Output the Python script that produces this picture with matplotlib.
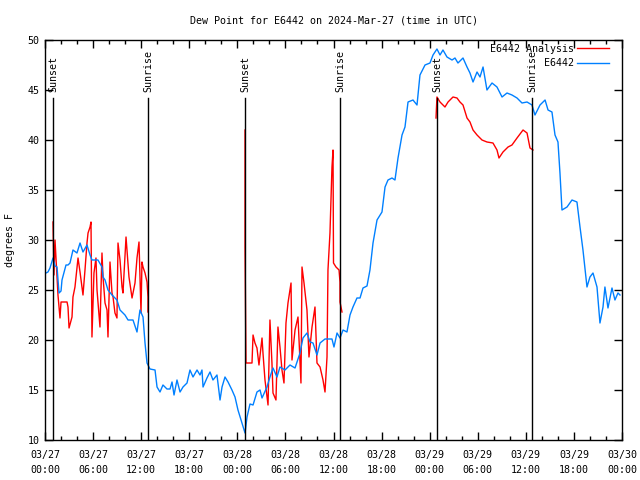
import numpy as np
import matplotlib
matplotlib.use("Agg")
import matplotlib.pyplot as plt
from matplotlib.ticker import MultipleLocator

# ---- data (hours since 2024-03-27 00:00 UTC) ----
blue_h = [0.12, 0.37, 0.62, 1.0, 1.25, 1.5, 1.75, 2.0, 2.12, 2.62, 2.87, 3.12, 3.49, 3.99, 4.37, 4.74,
          5.24, 5.62, 5.86, 6.61, 7.11, 7.24, 7.49, 7.86, 8.36, 8.98, 9.36, 9.98, 10.36, 10.98, 11.48,
          11.85, 12.23, 12.48, 12.73, 13.1, 13.73, 13.98, 14.35, 14.72, 15.22, 15.6, 15.85, 16.1, 16.47,
          16.85, 17.22, 17.72, 18.09, 18.47, 18.97, 19.34, 19.59, 19.72, 20.21, 20.59, 20.96, 21.46,
          21.84, 22.09, 22.46, 22.84, 23.33, 23.71, 24.08, 24.58, 24.96, 25.21, 25.58, 25.96, 26.45,
          26.83, 27.08, 27.7, 28.07, 28.45, 28.95, 29.32, 29.95, 30.57, 31.2, 31.82, 32.19, 32.69,
          33.07, 33.44, 33.94, 34.32, 34.94, 35.81, 36.06, 36.44, 36.81, 37.19, 37.68, 38.06, 38.43,
          38.93, 39.31, 39.68, 40.18, 40.55, 40.93, 41.43, 42.05, 42.43, 42.8, 43.3, 43.67, 44.05,
          44.55, 44.92, 45.3, 45.92, 46.42, 46.79, 47.42, 48.04, 48.42, 48.91, 49.29, 49.66, 50.16,
          50.79, 51.16, 51.53, 52.16, 52.66, 53.03, 53.41, 53.91, 54.28, 54.66, 55.15, 55.78, 56.4,
          57.03, 57.65, 58.27, 58.9, 59.52, 60.15, 60.77, 61.14, 61.77, 62.4, 62.77, 63.26, 63.64,
          64.01, 64.26, 64.51, 65.14, 65.76, 66.38, 66.76, 67.13, 67.63, 68.0, 68.38, 68.88, 69.25,
          69.63, 69.87, 70.25, 70.75, 71.12, 71.5, 71.75]
blue_v = [26.7, 26.8, 27.2, 28.2, 27.4, 27.3, 24.7, 24.9, 26.0, 27.5, 27.5, 27.7, 29.0, 28.7, 29.7, 28.8,
          29.5, 28.5, 28.0, 28.0, 27.3, 26.3, 26.0, 25.0, 24.5, 24.0, 23.0, 22.5, 22.0, 22.0, 20.8,
          23.0, 22.3, 19.7, 17.7, 17.1, 17.0, 15.3, 14.8, 15.5, 15.1, 15.1, 15.8, 14.5, 16.0,
          14.8, 15.3, 15.7, 17.0, 16.3, 17.0, 16.5, 17.0, 15.3, 16.2, 16.8, 16.0, 16.5,
          14.0, 15.3, 16.3, 15.8, 15.0, 14.3, 13.0, 11.7, 10.7, 12.3, 13.6, 13.5, 14.8,
          15.0, 14.2, 15.3, 16.3, 17.2, 16.3, 17.3, 17.0, 17.5, 17.2, 18.7, 20.2, 20.7,
          19.8, 19.7, 18.5, 19.7, 20.1, 20.1, 19.3, 20.7, 20.2, 21.0, 20.8, 22.5, 23.3,
          24.2, 24.2, 25.2, 25.4, 27.0, 29.7, 32.0, 32.8, 35.3, 36.0, 36.2, 36.0, 38.2,
          40.5, 41.3, 43.8, 44.0, 43.5, 46.5, 47.5, 47.7, 48.5, 49.1, 48.5, 49.0, 48.3,
          48.0, 48.2, 47.7, 48.2, 47.3, 46.7, 45.8, 46.8, 46.3, 47.3, 45.0, 45.7, 45.3,
          44.3, 44.7, 44.5, 44.2, 43.7, 43.8, 43.5, 42.5, 43.5, 44.0, 43.0, 42.8, 40.5,
          39.8, 36.7, 33.0, 33.3, 34.0, 33.8, 31.3, 29.0, 25.3, 26.3, 26.7, 25.3, 21.7,
          23.3, 25.3, 23.2, 25.2, 24.0, 24.7, 24.5]

# analysis series: three night-time segments separated by NaN
red_h = [1.0, 1.12, 1.25, 1.5, 1.62, 1.87, 2.0, 2.75, 2.87, 3.0, 3.37, 3.49, 3.74, 4.12, 4.37, 4.62, 4.74,
         4.99, 5.24, 5.37, 5.62, 5.74, 5.86, 6.11, 6.36, 6.49, 6.86, 7.11, 7.24, 7.49, 7.74, 7.86,
         8.11, 8.36, 8.49, 8.73, 8.98, 9.11, 9.36, 9.61, 9.73, 10.11, 10.23, 10.48, 10.86, 11.23,
         11.48, 11.73, 11.98, 12.1, 12.23, 12.48, 12.73, 12.85, 12.85,
         np.nan,
         24.96, 24.96, 25.08, 25.83, 25.96, 26.2, 26.45, 26.7, 27.08, 27.2, 27.45, 27.83, 28.07,
         28.32, 28.45, 28.82, 29.07, 29.32, 29.57, 29.82, 30.07, 30.32, 30.7, 30.82, 31.2, 31.57,
         31.94, 32.07, 32.32, 32.69, 32.94, 33.32, 33.69, 33.94, 34.32, 34.69, 34.94, 35.19, 35.31,
         35.56, 35.69, 35.81, 35.94, 36.0, 36.31, 36.69, 36.81, 36.81, 37.06,
         np.nan,
         48.79, 48.91, 49.29, 49.91, 50.29, 50.91, 51.41, 51.78, 52.16, 52.66, 53.03, 53.41, 53.91,
         54.53, 55.15, 55.9, 56.4, 56.65, 57.15, 57.78, 58.27, 58.9, 59.65, 60.15, 60.52, 60.89]
red_v = [31.8, 26.5, 30.0, 26.3, 24.5, 22.2, 23.8, 23.8, 23.3, 21.2, 22.3, 24.3, 25.3, 28.2, 26.8, 25.3, 24.5,
         27.0, 29.7, 30.7, 31.3, 31.8, 20.3, 26.7, 28.2, 25.0, 21.3, 28.7, 26.3, 23.7, 23.0, 20.3,
         27.8, 24.7, 24.3, 22.7, 22.2, 29.7, 28.0, 25.3, 24.7, 30.3, 29.0, 26.3, 24.2, 25.7,
         28.2, 29.8, 22.7, 27.8, 27.3, 26.7, 25.8, 24.3, 22.8,
         np.nan,
         41.0, 29.3, 17.7, 17.7, 20.5, 19.7, 19.2, 17.5, 20.2, 18.7, 16.0, 13.5, 22.0,
         17.7, 14.7, 14.0, 21.3, 19.3, 17.0, 15.7, 21.7, 23.7, 25.7, 18.0, 21.0, 22.3,
         15.7, 27.3, 25.7, 23.0, 18.3, 21.3, 23.3, 17.7, 17.3, 16.0, 14.8, 18.3, 27.0,
         30.7, 34.0, 37.3, 39.0, 27.7, 27.3, 27.0, 25.8, 23.8, 22.8,
         np.nan,
         42.2, 44.3, 43.8, 43.3, 43.8, 44.3, 44.2, 43.8, 43.5, 42.2, 41.8, 41.0, 40.5,
         40.0, 39.8, 39.7, 39.0, 38.2, 38.8, 39.3, 39.5, 40.2, 41.0, 40.7, 39.2, 39.0]

sun_h = [1.0, 12.85, 24.96, 36.81, 48.91, 60.77]
sun_lbl = ["Sunset", "Sunrise", "Sunset", "Sunrise", "Sunset", "Sunrise"]

xtick_h = list(range(0, 73, 6))
xtick_lbl = ["03/27\n00:00", "03/27\n06:00", "03/27\n12:00", "03/27\n18:00",
             "03/28\n00:00", "03/28\n06:00", "03/28\n12:00", "03/28\n18:00",
             "03/29\n00:00", "03/29\n06:00", "03/29\n12:00", "03/29\n18:00",
             "03/30\n00:00"]
ytick_v = [10, 15, 20, 25, 30, 35, 40, 45, 50]

title = "Dew Point for E6442 on 2024-Mar-27 (time in UTC)"

# ---- plot ----
plt.rcParams['font.family'] = ['DejaVu Sans Mono']
FS = 7.2

fig = plt.figure(figsize=(6.4, 4.8), dpi=100)
ax = fig.add_axes([45/640, 40/480, 577/640, 400/480])

ax.plot(red_h, red_v, color='#ff0000', lw=1.0, label='E6442 Analysis')
ax.plot(blue_h, blue_v, color='#0080ff', lw=1.0, label='E6442')

for h, l in zip(sun_h, sun_lbl):
    ax.plot([h, h], [10, 44.2], color='black', lw=1.0)
    ax.text(h, 44.8, l, rotation=90, ha='center', va='bottom', fontsize=FS)

ax.set_xlim(0, 72)
ax.set_ylim(10, 50)
ax.set_xticks(xtick_h)
ax.set_xticklabels(xtick_lbl, fontsize=FS, linespacing=1.6)
ax.xaxis.set_minor_locator(MultipleLocator(2))
ax.set_yticks(ytick_v)
ax.set_yticklabels([str(v) for v in ytick_v], fontsize=FS)
ax.tick_params(axis='both', which='major', direction='in', length=6, width=1,
               top=True, right=True, pad=4)
ax.tick_params(axis='x', which='major', pad=7)
ax.tick_params(axis='both', which='minor', direction='in', length=3, width=1,
               top=True, right=True)
for s in ax.spines.values():
    s.set_linewidth(1.0)

ax.set_ylabel("degrees F", fontsize=FS, labelpad=9)
ax.set_title(title, fontsize=FS, pad=12)

leg = ax.legend(loc='upper right', bbox_to_anchor=(0.987, 1.003), frameon=False, fontsize=FS,
                markerfirst=False, handlelength=3.2, handletextpad=0.35, labelspacing=0.45,
                borderaxespad=0.2, borderpad=0.3)
for t in leg.get_texts():
    t.set_ha('right')

fig.savefig("out.png", dpi=100)
